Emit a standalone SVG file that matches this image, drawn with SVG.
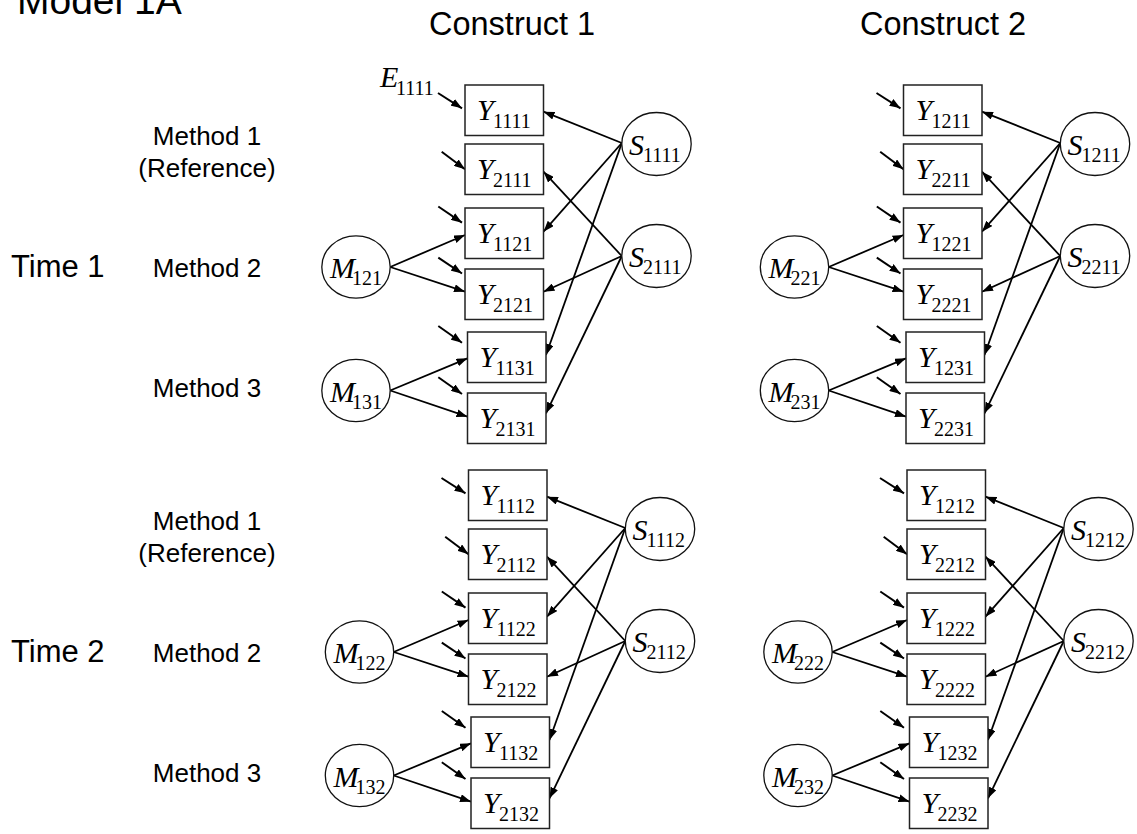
<svg xmlns="http://www.w3.org/2000/svg" width="1137" height="834" viewBox="0 0 1137 834">
  <style>
    .box{fill:#fff;stroke:#222;stroke-width:1.5}
    .lat{fill:#fff;stroke:#111;stroke-width:1.3}
    .v{font-family:"Liberation Serif","Times New Roman",serif;font-style:italic;font-size:30px;fill:#000}
    .sub{font-style:normal;font-size:20px}
    .lbl{font-family:"Liberation Sans",Arial,Helvetica,sans-serif;fill:#000}
    .ln{fill:none;stroke:#000;stroke-width:1.8;marker-end:url(#ah)}
    .err{stroke-width:2}
  </style>
  <defs>
    <marker id="ah" viewBox="0 0 11 8" refX="11" refY="4" markerWidth="11" markerHeight="8" markerUnits="userSpaceOnUse" orient="auto">
      <path d="M0,0 L11,4 L0,8 z" fill="#000"/>
    </marker>
    <!-- shared path/loading layout for one construct × time block -->
    <g id="paths">
      <line class="ln" x1="390.2" y1="267" x2="465" y2="235"/>
      <line class="ln" x1="390.2" y1="267" x2="465" y2="291.7"/>
      <line class="ln" x1="390.2" y1="390.5" x2="467.5" y2="358.3"/>
      <line class="ln" x1="390.2" y1="390.5" x2="467.5" y2="416.7"/>
      <line class="ln" x1="621.8" y1="143" x2="543.5" y2="111.7"/>
      <line class="ln" x1="621.8" y1="143" x2="543.5" y2="231.7"/>
      <line class="ln" x1="621.8" y1="143" x2="546" y2="355"/>
      <line class="ln" x1="621.8" y1="256" x2="543.5" y2="171.7"/>
      <line class="ln" x1="621.8" y1="256" x2="543.5" y2="291.7"/>
      <line class="ln" x1="621.8" y1="256" x2="546" y2="413.3"/>
      <line class="ln err" x1="438" y1="93" x2="462" y2="108.3"/>
      <line class="ln err" x1="441.7" y1="151.7" x2="465" y2="169.3"/>
      <line class="ln err" x1="438.3" y1="206.5" x2="462" y2="222.7"/>
      <line class="ln err" x1="438.3" y1="257.7" x2="462" y2="273.5"/>
      <line class="ln err" x1="438.3" y1="326" x2="462" y2="342.7"/>
      <line class="ln err" x1="438.3" y1="377.3" x2="462" y2="394"/>
    </g>
  </defs>

  <!-- headings -->
  <g id="labels" class="lbl">
    <text x="17" y="13.5" font-size="39">Model 1A</text>
    <text x="429" y="35" font-size="32.5">Construct 1</text>
    <text x="860" y="35" font-size="32.5">Construct 2</text>
    <text x="11" y="276.7" font-size="31">Time 1</text>
    <text x="11" y="661.7" font-size="31">Time 2</text>
    <g font-size="26" text-anchor="middle">
      <text x="207" y="145">Method 1</text>
      <text x="207" y="176.7">(Reference)</text>
      <text x="207" y="276.7">Method 2</text>
      <text x="207" y="397.3">Method 3</text>
      <text x="207" y="530">Method 1</text>
      <text x="207" y="561.7">(Reference)</text>
      <text x="207" y="661.7">Method 2</text>
      <text x="207" y="782.3">Method 3</text>
    </g>
  </g>

  <!-- loadings and error paths -->
  <g id="connectors">
    <use href="#paths"/>
    <use href="#paths" transform="translate(438.5,0)"/>
    <use href="#paths" transform="translate(3.5,385)"/>
    <use href="#paths" transform="translate(442,385)"/>
  </g>

  <!-- Construct 1, Time 1 -->
  <g id="c1t1">
    <g id="E1111"><text class="v"><tspan x="380" y="87">E</tspan><tspan class="sub" x="396" y="95">1111</tspan></text></g>
    <g id="Y1111"><rect class="box" x="465" y="85" width="78.5" height="50.5"/><text class="v"><tspan x="477" y="120">Y</tspan><tspan class="sub" x="493" y="128.3">1111</tspan></text></g>
    <g id="Y2111"><rect class="box" x="465" y="144" width="78.5" height="50.5"/><text class="v"><tspan x="477" y="179">Y</tspan><tspan class="sub" x="493" y="187.3">2111</tspan></text></g>
    <g id="Y1121"><rect class="box" x="465" y="208" width="78.5" height="50.5"/><text class="v"><tspan x="477" y="243">Y</tspan><tspan class="sub" x="493" y="251.3">1121</tspan></text></g>
    <g id="Y2121"><rect class="box" x="465" y="269" width="78.5" height="50.5"/><text class="v"><tspan x="477" y="304">Y</tspan><tspan class="sub" x="493" y="312.3">2121</tspan></text></g>
    <g id="Y1131"><rect class="box" x="467.5" y="332" width="78.5" height="50.5"/><text class="v"><tspan x="479.5" y="367">Y</tspan><tspan class="sub" x="495.5" y="375.3">1131</tspan></text></g>
    <g id="Y2131"><rect class="box" x="467.5" y="393" width="78.5" height="50.5"/><text class="v"><tspan x="479.5" y="428">Y</tspan><tspan class="sub" x="495.5" y="436.3">2131</tspan></text></g>
    <g id="S1111"><ellipse class="lat" cx="656.5" cy="144" rx="34.7" ry="31.5"/><text class="v"><tspan x="629" y="155">S</tspan><tspan class="sub" x="643" y="161.7">1111</tspan></text></g>
    <g id="S2111"><ellipse class="lat" cx="656.5" cy="256" rx="34.7" ry="31.5"/><text class="v"><tspan x="629" y="267">S</tspan><tspan class="sub" x="643" y="273.7">2111</tspan></text></g>
    <g id="M121"><ellipse class="lat" cx="356" cy="267" rx="34.2" ry="31.2"/><text class="v"><tspan x="330" y="278.3">M</tspan><tspan class="sub" x="352" y="285">121</tspan></text></g>
    <g id="M131"><ellipse class="lat" cx="356" cy="390.5" rx="34.2" ry="31.2"/><text class="v"><tspan x="330" y="401.8">M</tspan><tspan class="sub" x="352" y="408.5">131</tspan></text></g>
  </g>

  <!-- Construct 2, Time 1 -->
  <g id="c2t1" transform="translate(438.5,0)">
    <g id="Y1211"><rect class="box" x="465" y="85" width="78.5" height="50.5"/><text class="v"><tspan x="477" y="120">Y</tspan><tspan class="sub" x="493" y="128.3">1211</tspan></text></g>
    <g id="Y2211"><rect class="box" x="465" y="144" width="78.5" height="50.5"/><text class="v"><tspan x="477" y="179">Y</tspan><tspan class="sub" x="493" y="187.3">2211</tspan></text></g>
    <g id="Y1221"><rect class="box" x="465" y="208" width="78.5" height="50.5"/><text class="v"><tspan x="477" y="243">Y</tspan><tspan class="sub" x="493" y="251.3">1221</tspan></text></g>
    <g id="Y2221"><rect class="box" x="465" y="269" width="78.5" height="50.5"/><text class="v"><tspan x="477" y="304">Y</tspan><tspan class="sub" x="493" y="312.3">2221</tspan></text></g>
    <g id="Y1231"><rect class="box" x="467.5" y="332" width="78.5" height="50.5"/><text class="v"><tspan x="479.5" y="367">Y</tspan><tspan class="sub" x="495.5" y="375.3">1231</tspan></text></g>
    <g id="Y2231"><rect class="box" x="467.5" y="393" width="78.5" height="50.5"/><text class="v"><tspan x="479.5" y="428">Y</tspan><tspan class="sub" x="495.5" y="436.3">2231</tspan></text></g>
    <g id="S1211"><ellipse class="lat" cx="656.5" cy="144" rx="34.7" ry="31.5"/><text class="v"><tspan x="629" y="155">S</tspan><tspan class="sub" x="643" y="161.7">1211</tspan></text></g>
    <g id="S2211"><ellipse class="lat" cx="656.5" cy="256" rx="34.7" ry="31.5"/><text class="v"><tspan x="629" y="267">S</tspan><tspan class="sub" x="643" y="273.7">2211</tspan></text></g>
    <g id="M221"><ellipse class="lat" cx="356" cy="267" rx="34.2" ry="31.2"/><text class="v"><tspan x="330" y="278.3">M</tspan><tspan class="sub" x="352" y="285">221</tspan></text></g>
    <g id="M231"><ellipse class="lat" cx="356" cy="390.5" rx="34.2" ry="31.2"/><text class="v"><tspan x="330" y="401.8">M</tspan><tspan class="sub" x="352" y="408.5">231</tspan></text></g>
  </g>

  <!-- Construct 1, Time 2 -->
  <g id="c1t2" transform="translate(3.5,385)">
    <g id="Y1112"><rect class="box" x="465" y="85" width="78.5" height="50.5"/><text class="v"><tspan x="477" y="120">Y</tspan><tspan class="sub" x="493" y="128.3">1112</tspan></text></g>
    <g id="Y2112"><rect class="box" x="465" y="144" width="78.5" height="50.5"/><text class="v"><tspan x="477" y="179">Y</tspan><tspan class="sub" x="493" y="187.3">2112</tspan></text></g>
    <g id="Y1122"><rect class="box" x="465" y="208" width="78.5" height="50.5"/><text class="v"><tspan x="477" y="243">Y</tspan><tspan class="sub" x="493" y="251.3">1122</tspan></text></g>
    <g id="Y2122"><rect class="box" x="465" y="269" width="78.5" height="50.5"/><text class="v"><tspan x="477" y="304">Y</tspan><tspan class="sub" x="493" y="312.3">2122</tspan></text></g>
    <g id="Y1132"><rect class="box" x="467.5" y="332" width="78.5" height="50.5"/><text class="v"><tspan x="479.5" y="367">Y</tspan><tspan class="sub" x="495.5" y="375.3">1132</tspan></text></g>
    <g id="Y2132"><rect class="box" x="467.5" y="393" width="78.5" height="50.5"/><text class="v"><tspan x="479.5" y="428">Y</tspan><tspan class="sub" x="495.5" y="436.3">2132</tspan></text></g>
    <g id="S1112"><ellipse class="lat" cx="656.5" cy="144" rx="34.7" ry="31.5"/><text class="v"><tspan x="629" y="155">S</tspan><tspan class="sub" x="643" y="161.7">1112</tspan></text></g>
    <g id="S2112"><ellipse class="lat" cx="656.5" cy="256" rx="34.7" ry="31.5"/><text class="v"><tspan x="629" y="267">S</tspan><tspan class="sub" x="643" y="273.7">2112</tspan></text></g>
    <g id="M122"><ellipse class="lat" cx="356" cy="267" rx="34.2" ry="31.2"/><text class="v"><tspan x="330" y="278.3">M</tspan><tspan class="sub" x="352" y="285">122</tspan></text></g>
    <g id="M132"><ellipse class="lat" cx="356" cy="390.5" rx="34.2" ry="31.2"/><text class="v"><tspan x="330" y="401.8">M</tspan><tspan class="sub" x="352" y="408.5">132</tspan></text></g>
  </g>

  <!-- Construct 2, Time 2 -->
  <g id="c2t2" transform="translate(442,385)">
    <g id="Y1212"><rect class="box" x="465" y="85" width="78.5" height="50.5"/><text class="v"><tspan x="477" y="120">Y</tspan><tspan class="sub" x="493" y="128.3">1212</tspan></text></g>
    <g id="Y2212"><rect class="box" x="465" y="144" width="78.5" height="50.5"/><text class="v"><tspan x="477" y="179">Y</tspan><tspan class="sub" x="493" y="187.3">2212</tspan></text></g>
    <g id="Y1222"><rect class="box" x="465" y="208" width="78.5" height="50.5"/><text class="v"><tspan x="477" y="243">Y</tspan><tspan class="sub" x="493" y="251.3">1222</tspan></text></g>
    <g id="Y2222"><rect class="box" x="465" y="269" width="78.5" height="50.5"/><text class="v"><tspan x="477" y="304">Y</tspan><tspan class="sub" x="493" y="312.3">2222</tspan></text></g>
    <g id="Y1232"><rect class="box" x="467.5" y="332" width="78.5" height="50.5"/><text class="v"><tspan x="479.5" y="367">Y</tspan><tspan class="sub" x="495.5" y="375.3">1232</tspan></text></g>
    <g id="Y2232"><rect class="box" x="467.5" y="393" width="78.5" height="50.5"/><text class="v"><tspan x="479.5" y="428">Y</tspan><tspan class="sub" x="495.5" y="436.3">2232</tspan></text></g>
    <g id="S1212"><ellipse class="lat" cx="656.5" cy="144" rx="34.7" ry="31.5"/><text class="v"><tspan x="629" y="155">S</tspan><tspan class="sub" x="643" y="161.7">1212</tspan></text></g>
    <g id="S2212"><ellipse class="lat" cx="656.5" cy="256" rx="34.7" ry="31.5"/><text class="v"><tspan x="629" y="267">S</tspan><tspan class="sub" x="643" y="273.7">2212</tspan></text></g>
    <g id="M222"><ellipse class="lat" cx="356" cy="267" rx="34.2" ry="31.2"/><text class="v"><tspan x="330" y="278.3">M</tspan><tspan class="sub" x="352" y="285">222</tspan></text></g>
    <g id="M232"><ellipse class="lat" cx="356" cy="390.5" rx="34.2" ry="31.2"/><text class="v"><tspan x="330" y="401.8">M</tspan><tspan class="sub" x="352" y="408.5">232</tspan></text></g>
  </g>
</svg>
